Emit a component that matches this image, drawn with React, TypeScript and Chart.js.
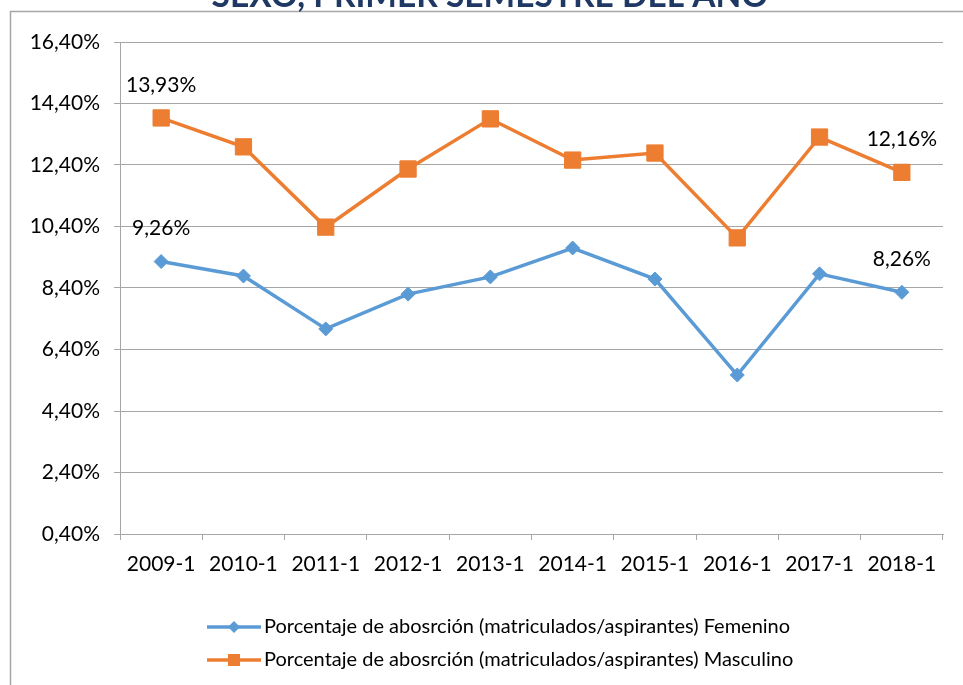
import React, { useEffect, useRef } from "react";
import { Chart, registerables } from "chart.js";

Chart.register(...registerables);

const categories = ["2009-1", "2010-1", "2011-1", "2012-1", "2013-1", "2014-1", "2015-1", "2016-1", "2017-1", "2018-1"];
const femenino = [9.26, 8.79, 7.07, 8.2, 8.76, 9.7, 8.69, 5.57, 8.86, 8.26];
const masculino = [13.93, 12.99, 10.38, 12.27, 13.9, 12.56, 12.79, 10.03, 13.31, 12.16];
const seriesNames = [
  "Porcentaje de abosrción (matriculados/aspirantes) Femenino",
  "Porcentaje de abosrción (matriculados/aspirantes) Masculino",
];
const titleText = "SEXO, PRIMER SEMESTRE DEL AÑO";
const yMin = 0.4;
const yMax = 16.4;
const yStep = 2;

const BLUE = "#5B9BD5";
const ORANGE = "#ED7D31";
const FONT = "Lato, 'Open Sans', sans-serif";

const fmt = (v: number) => v.toFixed(2).replace(".", ",") + "%";

const decorPlugin = {
  id: "decor",
  beforeDraw(chart: any) {
    const ctx = chart.ctx;
    ctx.save();
    // frame
    ctx.strokeStyle = "#A6A6A6";
    ctx.lineWidth = 1.5;
    ctx.beginPath();
    ctx.moveTo(10.5, 685);
    ctx.lineTo(10.5, 11.5);
    ctx.lineTo(963, 11.5);
    ctx.stroke();
    // title (cut off at the top)
    ctx.fillStyle = "#1F3864";
    ctx.font = `bold 33.5px ${FONT}`;
    ctx.textAlign = "center";
    ctx.textBaseline = "alphabetic";
    ctx.fillText(titleText, 490, 7);
    ctx.restore();
  },
  afterDatasetsDraw(chart: any) {
    const ctx = chart.ctx;
    ctx.save();
    ctx.font = `21px ${FONT}`;
    ctx.fillStyle = "#000";
    ctx.textAlign = "center";
    ctx.textBaseline = "middle";
    chart.data.datasets.forEach((ds: any, i: number) => {
      const meta = chart.getDatasetMeta(i);
      const n = ds.data.length;
      [0, n - 1].forEach((j) => {
        const p = meta.data[j];
        ctx.fillText(fmt(ds.data[j]), p.x, p.y - 33);
      });
    });
    // legend
    const rows = [627, 660];
    chart.data.datasets.forEach((ds: any, i: number) => {
      const y = rows[i];
      const x0 = 207;
      const x1 = 261;
      ctx.strokeStyle = ds.borderColor;
      ctx.lineWidth = 3.5;
      ctx.beginPath();
      ctx.moveTo(x0, y);
      ctx.lineTo(x1, y);
      ctx.stroke();
      ctx.fillStyle = ds.borderColor;
      const cx = (x0 + x1) / 2;
      if (ds.pointStyle === "rect") {
        ctx.fillRect(cx - 6, y - 6, 12, 12);
      } else {
        ctx.beginPath();
        ctx.moveTo(cx, y - 6);
        ctx.lineTo(cx + 6, y);
        ctx.lineTo(cx, y + 6);
        ctx.lineTo(cx - 6, y);
        ctx.closePath();
        ctx.fill();
      }
      ctx.fillStyle = "#000";
      ctx.textAlign = "left";
      ctx.font = `20px ${FONT}`;
      ctx.fillText(ds.label, 264, y);
    });
    ctx.restore();
  },
};

export default function App() {
  const ref = useRef<HTMLCanvasElement | null>(null);
  useEffect(() => {
    if (!ref.current) return;
    Chart.defaults.font.family = FONT;
    const chart = new Chart(ref.current, {
      type: "line",
      data: {
        labels: categories,
        datasets: [
          {
            label: seriesNames[0],
            data: femenino,
            borderColor: BLUE,
            backgroundColor: BLUE,
            borderWidth: 3.5,
            pointStyle: "rectRot",
            pointRadius: 7,
            pointBorderWidth: 1,
            pointBackgroundColor: BLUE,
            pointBorderColor: BLUE,
            tension: 0,
          },
          {
            label: seriesNames[1],
            data: masculino,
            borderColor: ORANGE,
            backgroundColor: ORANGE,
            borderWidth: 3.5,
            pointStyle: "rect",
            pointRadius: 11.5,
            pointBorderWidth: 1,
            pointBackgroundColor: ORANGE,
            pointBorderColor: ORANGE,
            tension: 0,
          },
        ],
      },
      options: {
        animation: false,
        responsive: false,
        layout: { padding: { top: 42, right: 20, left: 0, bottom: 0 } },
        plugins: {
          legend: { display: false },
          title: { display: false },
          tooltip: { enabled: false },
        },
        scales: {
          x: {
            offset: true,
            afterFit: (s: any) => {
              s.height = 151;
            },
            grid: {
              offset: true,
              drawOnChartArea: false,
              drawTicks: true,
              tickLength: 6,
              color: "#A6A6A6",
            },
            border: { color: "#A6A6A6" },
            ticks: {
              color: "#000",
              font: { size: 21, family: FONT },
              padding: 12,
              maxRotation: 0,
            },
          },
          y: {
            min: yMin,
            max: yMax,
            afterFit: (s: any) => {
              s.width = 120;
            },
            afterBuildTicks: (s: any) => {
              const t = [];
              for (let v = yMin; v <= yMax + 1e-9; v += yStep) t.push({ value: Math.round(v * 100) / 100 });
              s.ticks = t;
            },
            grid: { color: "#A6A6A6", tickLength: 6 },
            border: { color: "#A6A6A6" },
            ticks: {
              color: "#000",
              font: { size: 21, family: FONT },
              padding: 14,
              callback: (v: any) => fmt(Number(v)),
            },
          },
        },
      },
      plugins: [decorPlugin],
    });
    return () => chart.destroy();
  }, []);
  return (
    <div style={{ position: "absolute", left: 0, top: 0, width: 963, height: 685, background: "#fff" }}>
      <canvas ref={ref} width={963} height={685} style={{ display: "block" }} />
    </div>
  );
}
